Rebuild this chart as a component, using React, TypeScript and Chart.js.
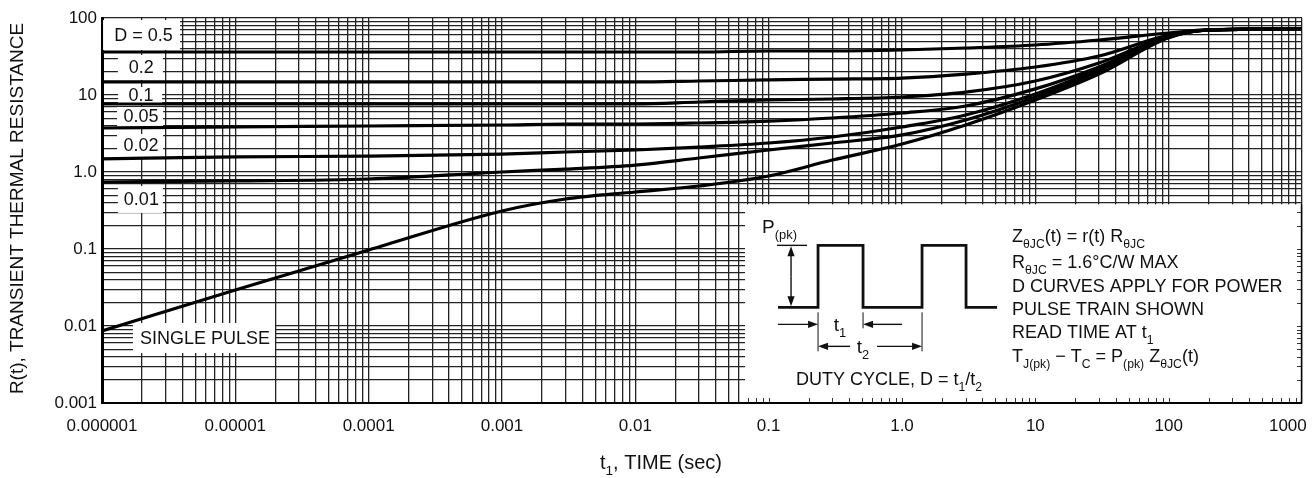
import React, { useEffect, useRef } from 'react';
import { Chart, registerables } from 'chart.js';

Chart.register(...registerables);

// ---------- data ----------
const TIME = [1e-6, 1e-5, 1e-4, 1e-3, 3e-3, 1e-2, 3e-2, 0.1, 0.3, 1, 3, 10, 30, 100, 200, 1000];
const R_D050 = [36.2, 36.2, 36.2, 36.2, 36.2, 36.2, 36.2, 37.3, 37.3, 38.4, 40.8, 44.6, 51.8, 63.9, 70.5, 72.6];
const R_D020 = [14.8, 14.8, 14.8, 14.8, 14.8, 14.8, 15.2, 15.7, 16.1, 16.6, 18.7, 23.1, 32.1, 60.1, 69.9, 72.6];
const R_D010 = [7.64, 7.64, 7.64, 7.64, 7.64, 7.64, 8.11, 8.61, 8.87, 9.42, 10.9, 15.2, 26.0, 58.4, 69.9, 72.6];
const R_D005 = [3.73, 3.84, 3.96, 4.08, 4.2, 4.2, 4.33, 4.59, 5.03, 5.84, 7.2, 12.0, 23.1, 57.5, 69.9, 72.6];
const R_D002 = [1.48, 1.57, 1.61, 1.71, 1.82, 1.93, 2.11, 2.38, 2.85, 3.84, 5.5, 10.3, 21.8, 56.7, 69.9, 72.6];
const R_D001 = [0.741, 0.764, 0.811, 1.0, 1.09, 1.23, 1.52, 1.93, 2.38, 3.03, 4.73, 9.42, 20.5, 56.0, 69.9, 72.6];
const R_SINGLE = [0.0086, 0.0294, 0.097, 0.312, 0.446, 0.55, 0.658, 0.887, 1.43, 2.31, 4.08, 8.61, 18.7, 55.3, 69.9, 72.6];

const SERIES = [R_D050, R_D020, R_D010, R_D005, R_D002, R_D001, R_SINGLE];
const CURVE_LABELS = ['D = 0.5', '0.2', '0.1', '0.05', '0.02', '0.01', 'SINGLE PULSE'];

const X_TICK_LABELS = ['0.000001', '0.00001', '0.0001', '0.001', '0.01', '0.1', '1.0', '10', '100', '1000'];
const Y_TICK_LABELS = ['0.001', '0.01', '0.1', '1.0', '10', '100'];
const X_EXP_MIN = -6;
const X_EXP_MAX = 3;
const Y_EXP_MIN = -3;
const Y_EXP_MAX = 2;

const X_TITLE: [string, boolean][] = [['t', false], ['1', true], [', TIME (sec)', false]];
const Y_TITLE = 'R(t), TRANSIENT THERMAL RESISTANCE';

const INSET_LINES: [string, boolean][][] = [
  [['Z', false], ['θJC', true], ['(t) = r(t) R', false], ['θJC', true]],
  [['R', false], ['θJC', true], [' = 1.6°C/W MAX', false]],
  [['D CURVES APPLY FOR POWER', false]],
  [['PULSE TRAIN SHOWN', false]],
  [['READ TIME AT t', false], ['1', true]],
  [['T', false], ['J(pk)', true], [' − T', false], ['C', true], [' = P', false], ['(pk)', true], [' Z', false], ['θJC', true], ['(t)', false]],
];
const DUTY_TEXT: [string, boolean][] = [['DUTY CYCLE, D = t', false], ['1', true], ['/t', false], ['2', true]];

// ---------- annotation placement (data coords of label centres, box sizes in px) ----------
const LABEL_PLACES = [
  { t: 1.98e-6, r: 60.1, w: 77, h: 30 },
  { t: 1.94e-6, r: 22.8, w: 45, h: 25 },
  { t: 1.93e-6, r: 10.0, w: 44, h: 16 },
  { t: 1.93e-6, r: 5.26, w: 46, h: 19 },
  { t: 1.93e-6, r: 2.21, w: 46, h: 23 },
  { t: 1.94e-6, r: 0.44, w: 45, h: 27 },
  { t: 5.82e-6, r: 0.00698, w: 142, h: 30 },
];
const INSET_T0 = 0.0665;
const INSET_R0 = 0.38;

const FONT = "'Liberation Sans', Arial, Helvetica, sans-serif";
const INK = '#111';

function logTicks(e0: number, e1: number) {
  const out: { value: number }[] = [];
  for (let e = e0; e < e1; e++) {
    for (let m = 1; m < 10; m++) out.push({ value: parseFloat((m * Math.pow(10, e)).toPrecision(6)) });
  }
  out.push({ value: Math.pow(10, e1) });
  return out;
}

function decadeIndex(v: number, e0: number) {
  const l = Math.log10(v);
  const r = Math.round(l);
  if (Math.abs(l - r) < 1e-6) return r - e0;
  return -1;
}

function rich(ctx: CanvasRenderingContext2D, x: number, y: number, parts: [string, boolean][], size: number, align: 'left' | 'center') {
  const sub = size * 0.68;
  let total = 0;
  for (const [s, isSub] of parts) {
    ctx.font = `${isSub ? sub : size}px ${FONT}`;
    total += ctx.measureText(s).width;
  }
  let cx = align === 'center' ? x - total / 2 : x;
  ctx.textAlign = 'left';
  ctx.textBaseline = 'alphabetic';
  for (const [s, isSub] of parts) {
    ctx.font = `${isSub ? sub : size}px ${FONT}`;
    ctx.fillText(s, cx, isSub ? y + size * 0.3 : y);
    cx += ctx.measureText(s).width;
  }
}

function arrow(ctx: CanvasRenderingContext2D, x0: number, y0: number, x1: number, y1: number) {
  const ang = Math.atan2(y1 - y0, x1 - x0);
  const hl = 10, hw = 3.6;
  ctx.beginPath();
  ctx.moveTo(x0, y0);
  ctx.lineTo(x1 - Math.cos(ang) * hl * 0.8, y1 - Math.sin(ang) * hl * 0.8);
  ctx.stroke();
  ctx.beginPath();
  ctx.moveTo(x1, y1);
  ctx.lineTo(x1 - Math.cos(ang) * hl - Math.sin(ang) * hw, y1 - Math.sin(ang) * hl + Math.cos(ang) * hw);
  ctx.lineTo(x1 - Math.cos(ang) * hl + Math.sin(ang) * hw, y1 - Math.sin(ang) * hl - Math.cos(ang) * hw);
  ctx.closePath();
  ctx.fill();
}

const overlayPlugin = {
  id: 'overlay',
  beforeDatasetsDraw(chart: any) {
    const { ctx, chartArea } = chart;
    const xs = chart.scales.x;
    const ys = chart.scales.y;
    ctx.save();
    // curve labels
    LABEL_PLACES.forEach((p, i) => {
      const cx = xs.getPixelForValue(p.t);
      const cy = ys.getPixelForValue(p.r);
      ctx.fillStyle = '#fff';
      ctx.fillRect(cx - p.w / 2, cy - p.h / 2, p.w, p.h);
      ctx.fillStyle = INK;
      ctx.font = `18px ${FONT}`;
      ctx.textAlign = 'center';
      ctx.textBaseline = 'middle';
      ctx.fillText(CURVE_LABELS[i], cx + (i === 0 ? 2 : 1), cy + 1);
    });

    // inset box
    const L = xs.getPixelForValue(INSET_T0);
    const T = ys.getPixelForValue(INSET_R0);
    const R = chartArea.right;
    const B = chartArea.bottom;
    ctx.fillStyle = '#fff';
    ctx.fillRect(L, T, R - L - 1, B - T - 1);
    // inner tick marks along bottom and right
    ctx.strokeStyle = '#333';
    ctx.lineWidth = 1;
    xs.ticks.forEach((tk: any) => {
      const px = Math.round(xs.getPixelForValue(tk.value)) + 0.5;
      if (px > L && px < R - 1) {
        ctx.beginPath();
        ctx.moveTo(px, B);
        ctx.lineTo(px, B - 5);
        ctx.stroke();
      }
    });
    ys.ticks.forEach((tk: any) => {
      const py = Math.round(ys.getPixelForValue(tk.value)) + 0.5;
      if (py > T && py < B - 1) {
        ctx.beginPath();
        ctx.moveTo(R, py);
        ctx.lineTo(R - 5, py);
        ctx.stroke();
      }
    });
    // redraw edges
    ctx.strokeStyle = '#000';
    ctx.lineWidth = 1.4;
    ctx.beginPath();
    ctx.moveTo(R - 0.5, T);
    ctx.lineTo(R - 0.5, B);
    ctx.stroke();
    ctx.lineWidth = 2;
    ctx.beginPath();
    ctx.moveTo(L, B);
    ctx.lineTo(R, B);
    ctx.stroke();

    // pulse diagram
    ctx.fillStyle = INK;
    ctx.strokeStyle = INK;
    rich(ctx, L + 17, T + 29, [['P', false], ['(pk)', true]], 19, 'left');
    ctx.lineWidth = 1.4;
    ctx.beginPath();
    ctx.moveTo(L + 32, T + 41);
    ctx.lineTo(L + 62, T + 41);
    ctx.stroke();
    arrow(ctx, L + 46, T + 72, L + 46, T + 42);
    arrow(ctx, L + 46, T + 72, L + 46, T + 102);
    ctx.lineWidth = 2.8;
    ctx.beginPath();
    const pts = [[33, 103], [73, 103], [73, 41], [118, 41], [118, 103], [177, 103], [177, 41], [221, 41], [221, 103], [252, 103]];
    pts.forEach(([a, b], k) => (k === 0 ? ctx.moveTo(L + a, T + b) : ctx.lineTo(L + a, T + b)));
    ctx.stroke();
    ctx.lineWidth = 1;
    ctx.beginPath();
    ctx.moveTo(L + 73, T + 108); ctx.lineTo(L + 73, T + 147);
    ctx.moveTo(L + 118, T + 108); ctx.lineTo(L + 118, T + 124);
    ctx.moveTo(L + 177, T + 108); ctx.lineTo(L + 177, T + 147);
    ctx.stroke();
    ctx.lineWidth = 1.4;
    arrow(ctx, L + 33, T + 120, L + 73, T + 120);
    arrow(ctx, L + 157, T + 120, L + 118, T + 120);
    arrow(ctx, L + 105, T + 142, L + 73, T + 142);
    arrow(ctx, L + 132, T + 142, L + 177, T + 142);
    rich(ctx, L + 95, T + 127, [['t', false], ['1', true]], 19, 'center');
    rich(ctx, L + 118, T + 149, [['t', false], ['2', true]], 19, 'center');
    rich(ctx, L + 144, T + 181, DUTY_TEXT, 18, 'center');
    const baselines = [38, 64, 88, 111, 134, 158];
    INSET_LINES.forEach((ln, k) => rich(ctx, L + 267, T + baselines[k], ln, 18, 'left'));
    ctx.restore();
  },
  afterDraw(chart: any) {
    const { ctx, chartArea } = chart;
    ctx.save();
    ctx.fillStyle = INK;
    ctx.translate(18, (chartArea.top + chartArea.bottom) / 2 - 2);
    ctx.rotate(-Math.PI / 2);
    ctx.font = `19px ${FONT}`;
    ctx.textAlign = 'center';
    ctx.textBaseline = 'middle';
    ctx.fillText(Y_TITLE, 0, 0);
    ctx.restore();
    ctx.save();
    ctx.fillStyle = INK;
    rich(ctx, chart.width / 2 + 5, 469, X_TITLE, 20, 'center');
    ctx.restore();
  },
};

export default function App() {
  const ref = useRef<HTMLCanvasElement>(null);
  useEffect(() => {
    document.body.style.margin = '0';
    const datasets = SERIES.map((vals, i) => ({
      label: CURVE_LABELS[i],
      data: TIME.map((t, k) => ({ x: t, y: vals[k] })),
      borderColor: '#000',
      borderWidth: 3.2,
      pointRadius: 0,
      fill: false,
      cubicInterpolationMode: 'monotone' as const,
    }));
    const chart = new Chart(ref.current!, {
      type: 'line',
      data: { datasets },
      options: {
        animation: false,
        responsive: false,
        maintainAspectRatio: false,
        layout: { padding: { top: 18, right: 10, left: 0, bottom: 0 } },
        plugins: { legend: { display: false }, tooltip: { enabled: false } },
        scales: {
          x: {
            type: 'logarithmic',
            min: 1e-6,
            max: 1000,
            afterBuildTicks: (s: any) => { s.ticks = logTicks(X_EXP_MIN, X_EXP_MAX); },
            afterFit: (s: any) => { s.height = 75; s.paddingLeft = 0; s.paddingRight = 0; },
            grid: { color: '#222', lineWidth: 1.3, drawTicks: false },
            border: { display: true, color: '#000', width: 2 },
            ticks: {
              autoSkip: false,
              maxRotation: 0,
              minRotation: 0,
              padding: 13,
              color: INK,
              font: { family: FONT, size: 17 },
              callback: (v: any) => {
                const i = decadeIndex(Number(v), X_EXP_MIN);
                if (i < 0) return '';
                const s = X_TICK_LABELS[i];
                return i === X_TICK_LABELS.length - 1 ? s + '      ' : s;
              },
            },
          },
          y: {
            type: 'logarithmic',
            min: 0.001,
            max: 100,
            afterBuildTicks: (s: any) => { s.ticks = logTicks(Y_EXP_MIN, Y_EXP_MAX); },
            afterFit: (s: any) => { s.width = 102; s.paddingTop = 0; s.paddingBottom = 0; },
            grid: { color: '#222', lineWidth: 1.3, drawTicks: false },
            border: { display: true, color: '#000', width: 3 },
            ticks: {
              autoSkip: false,
              padding: 5,
              color: INK,
              font: { family: FONT, size: 17 },
              callback: (v: any) => {
                const i = decadeIndex(Number(v), Y_EXP_MIN);
                return i < 0 ? '' : Y_TICK_LABELS[i];
              },
            },
          },
        },
      },
      plugins: [overlayPlugin],
    });
    return () => chart.destroy();
  }, []);
  return (
    <div style={{ position: 'absolute', left: 0, top: 0, width: 1312, height: 478, background: '#fff' }}>
      <canvas ref={ref} width={1312} height={478} style={{ width: 1312, height: 478, display: 'block' }} />
    </div>
  );
}
